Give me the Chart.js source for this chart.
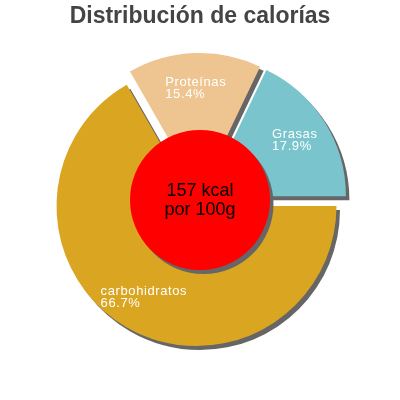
<!DOCTYPE html>
<html>
<head>
<meta charset="utf-8">
<script src="https://cdn.jsdelivr.net/npm/chart.js@4/dist/chart.umd.min.js"></script>
<style>
    html, body { margin: 0; padding: 0; background: #ffffff; }
    #wrap { width: 400px; height: 400px; position: relative; }
</style>
</head>
<body>
<div id="wrap"><canvas id="kcal-chart"></canvas></div>
<script>
// Chart data (clockwise from 3 o'clock)
const categories = ['carbohidratos', 'Proteínas', 'Grasas'];
const percentages = [66.7, 15.4, 17.9];
const percentLabels = ['66.7%', '15.4%', '17.9%'];
const centerLines = ['157 kcal', 'por 100g'];
const chartTitle = 'Distribución de calorías';

const sliceColors = ['#DAA520', '#EEC591', '#7AC5CD'];
const explodeDistance = 7;

// Moves slices outward, adds drop shadows, center disc and slice labels
const piePlugin = {
    id: 'pieDecor',
    beforeDatasetsDraw(chart) {
        const ctx = chart.ctx;
        const arcs = chart.getDatasetMeta(0).data;
        arcs.forEach(arc => {
            const mid = (arc.startAngle + arc.endAngle) / 2;
            arc.x += Math.cos(mid) * explodeDistance;
            arc.y += Math.sin(mid) * explodeDistance;
        });
        ctx.save();
        ctx.shadowColor = '#666666';
        ctx.shadowBlur = 0;
        ctx.shadowOffsetX = 3.5;
        ctx.shadowOffsetY = 4;
    },
    afterDatasetsDraw(chart) {
        const ctx = chart.ctx;
        const arcs = chart.getDatasetMeta(0).data;
        const area = chart.chartArea;
        const cx = (area.left + area.right) / 2;
        const cy = (area.top + area.bottom) / 2;
        const outer = arcs[0].outerRadius;

        // center disc, still with shadow
        ctx.fillStyle = '#FF0000';
        ctx.beginPath();
        ctx.arc(cx, cy, outer * 0.5, 0, Math.PI * 2);
        ctx.fill();
        ctx.restore();

        // center text
        ctx.save();
        ctx.fillStyle = '#000000';
        ctx.font = '18px "Liberation Sans", Arial, sans-serif';
        ctx.textAlign = 'center';
        ctx.textBaseline = 'alphabetic';
        ctx.fillText(centerLines[0], cx, cy - 4);
        ctx.fillText(centerLines[1], cx, cy + 15);
        ctx.restore();

        // slice labels
        ctx.save();
        ctx.fillStyle = '#ffffff';
        ctx.font = '13px "Liberation Sans", Arial, sans-serif';
        ctx.letterSpacing = '0.6px';
        ctx.textAlign = 'left';
        ctx.textBaseline = 'alphabetic';
        arcs.forEach((arc, i) => {
            const mid = (arc.startAngle + arc.endAngle) / 2;
            const r = arc.outerRadius * 0.75;
            const ax = arc.x + Math.cos(mid) * r;
            const ay = arc.y + Math.sin(mid) * r;
            const w = Math.max(ctx.measureText(categories[i]).width, ctx.measureText(percentLabels[i]).width);
            const left = ax - w / 2;
            ctx.fillText(categories[i], left, ay - 2);
            ctx.fillText(percentLabels[i], left, ay + 10);
        });
        ctx.restore();

        // put slices back where the controller placed them
        arcs.forEach(arc => {
            const mid = (arc.startAngle + arc.endAngle) / 2;
            arc.x -= Math.cos(mid) * explodeDistance;
            arc.y -= Math.sin(mid) * explodeDistance;
        });
    }
};

const titleHeight = 3 + 23 * 1.2;

new Chart(document.getElementById('kcal-chart'), {
    type: 'doughnut',
    data: {
        labels: categories,
        datasets: [{
            data: percentages,
            backgroundColor: sliceColors,
            borderWidth: 0
        }]
    },
    options: {
        responsive: true,
        maintainAspectRatio: false,
        animation: false,
        rotation: 90,
        cutout: '40%',
        radius: 140,
        layout: {
            padding: { top: 0, bottom: titleHeight, left: 0, right: 0 }
        },
        plugins: {
            legend: { display: false },
            tooltip: { enabled: false },
            title: {
                display: true,
                text: chartTitle,
                color: '#444444',
                font: {
                    family: '"Liberation Sans", Arial, sans-serif',
                    size: 23,
                    weight: 'bold',
                    lineHeight: 1.2
                },
                padding: { top: 3, bottom: 0 }
            }
        }
    },
    plugins: [piePlugin]
});
</script>
</body>
</html>
